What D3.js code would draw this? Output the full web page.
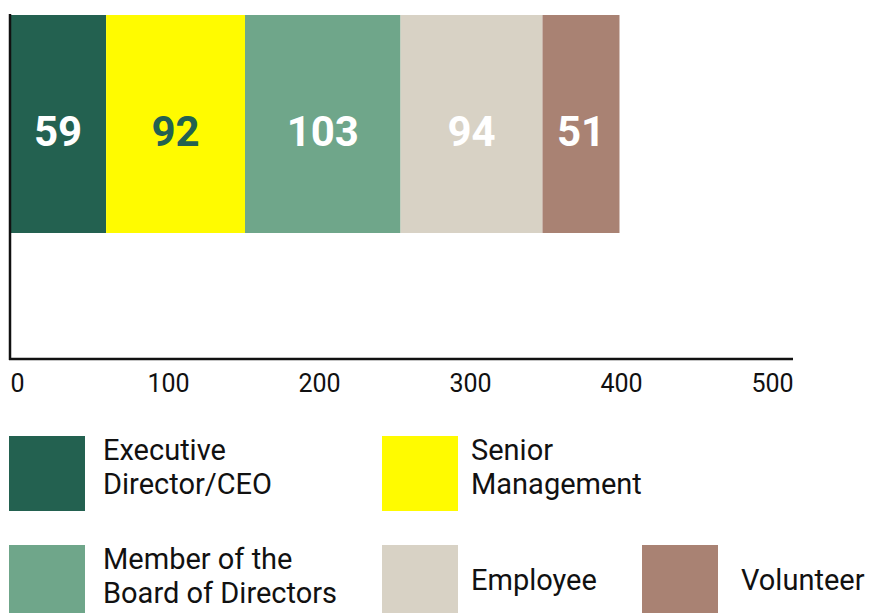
<!DOCTYPE html>
<html>
<head>
<meta charset="utf-8">
<script src="https://cdn.jsdelivr.net/npm/d3@7/dist/d3.min.js"></script>
<style>
  html, body { margin: 0; padding: 0; background: #fff; }
  svg { display: block; font-family: Roboto, "Noto Sans", sans-serif; }
</style>
</head>
<body>
<svg id="chart" width="870" height="613"></svg>
<script>
// ---- data ----
const categories = ["Executive Director/CEO", "Senior Management", "Member of the Board of Directors", "Employee", "Volunteer"];
const values = [59, 92, 103, 94, 51];
const colors = ["#236150", "#fffb00", "#6fa68a", "#d8d2c5", "#a98273"];
const labelColors = ["#ffffff", "#236150", "#ffffff", "#ffffff", "#ffffff"];
const tickValues = [0, 100, 200, 300, 400, 500];
const legendLines = [["Executive", "Director/CEO"], ["Senior", "Management"], ["Member of the", "Board of Directors"], ["Employee"], ["Volunteer"]];

// ---- layout ----
const svg = d3.select("#chart");
const plotLeft = 10, plotRight = 793, plotTop = 14, axisY = 359;
const x = d3.scaleLinear().domain([0, 500]).range([17, 772]);
const y = d3.scaleBand().domain(["all"]).range([15, 233]).padding(0);

const row = {};
categories.forEach((c, i) => row[c] = values[i]);
const stack = d3.stack().keys(categories)([row]);
const x0 = d => d[0][0] === 0 ? plotLeft : x(d[0][0]);

const g = svg.append("g");
g.selectAll("rect.bar")
  .data(stack)
  .join("rect")
  .attr("class", "bar")
  .attr("x", d => x0(d))
  .attr("width", d => x(d[0][1]) - x0(d))
  .attr("y", y("all"))
  .attr("height", y.bandwidth())
  .attr("fill", (d, i) => colors[i]);

g.selectAll("text.val")
  .data(stack)
  .join("text")
  .attr("class", "val")
  .attr("x", d => (x0(d) + x(d[0][1])) / 2)
  .attr("y", y("all") + y.bandwidth() / 2)
  .attr("dy", "0.52em")
  .attr("text-anchor", "middle")
  .attr("font-size", 42)
  .attr("font-weight", 700)
  .attr("fill", (d, i) => labelColors[i])
  .text((d, i) => values[i]);

// axes lines
svg.append("line").attr("x1", plotLeft).attr("x2", plotLeft).attr("y1", plotTop).attr("y2", axisY + 1)
  .attr("stroke", "#111").attr("stroke-width", 2.5);
svg.append("line").attr("x1", plotLeft - 1).attr("x2", plotRight).attr("y1", axisY).attr("y2", axisY)
  .attr("stroke", "#111").attr("stroke-width", 2.5);

const axis = d3.axisBottom(x).tickValues(tickValues).tickSize(0).tickPadding(0).tickFormat(d3.format("d"));
const ax = svg.append("g").attr("transform", `translate(0,392)`).call(axis);
ax.select(".domain").remove();
ax.selectAll("text").attr("y", 0).attr("dy", 0)
  .attr("font-size", 25).attr("fill", "#111").attr("font-family", "Roboto, sans-serif");

// legend
const cols = [9, 382, 642];
const textOff = [94, 89, 99];
const rowsY = [436, 545];
const legendPos = [[0, 0], [1, 0], [0, 1], [1, 1], [2, 1]];
const lg = svg.append("g");
categories.forEach((c, i) => {
  const [ci, ri] = legendPos[i];
  const rx = cols[ci], ry = rowsY[ri];
  lg.append("rect").attr("x", rx).attr("y", ry).attr("width", 76).attr("height", 75).attr("fill", colors[i]);
  const lines = legendLines[i];
  const lh = 34;
  const first = lines.length > 1 ? ry + 24 : ry + 45;
  const t = lg.append("text").attr("x", rx + textOff[ci]).attr("font-size", 29).attr("fill", "#111");
  lines.forEach((ln, k) => {
    t.append("tspan").attr("x", rx + textOff[ci]).attr("y", first + k * lh).text(ln);
  });
});
</script>
</body>
</html>
